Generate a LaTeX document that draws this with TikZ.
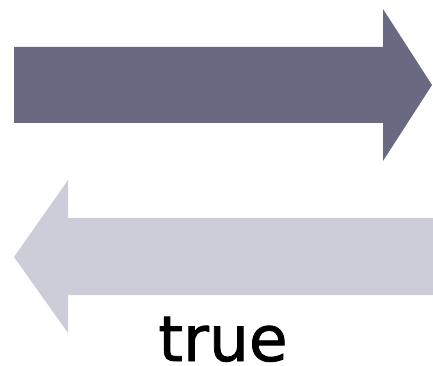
\documentclass[tikz,border=0pt]{standalone}
\usepackage{fontspec}
\newfontfamily\labelfont[FakeBold=1.2]{DejaVu Sans}
\definecolor{darkarrow}{HTML}{696982}
\definecolor{lightarrow}{HTML}{CDCDD9}
\begin{document}
\begin{tikzpicture}[x=1pt,y=-1pt,
  labeltext/.style={font=\labelfont\fontsize{63}{63}\selectfont, text=black, inner sep=0pt, anchor=base}]
\useasboundingbox (0,0) rectangle (433,366);
% top arrow (pointing right)
\fill[darkarrow] (14,47) -- (383,47) -- (383,9) -- (432,85) -- (383,161) -- (383,123) -- (14,123) -- cycle;
% bottom arrow (pointing left)
\fill[lightarrow] (433,218) -- (68,218) -- (68,180) -- (14,257) -- (68,333) -- (68,295) -- (433,295) -- cycle;
\node[labeltext] (lbl) at (223,361) {true};
\end{tikzpicture}
\end{document}
